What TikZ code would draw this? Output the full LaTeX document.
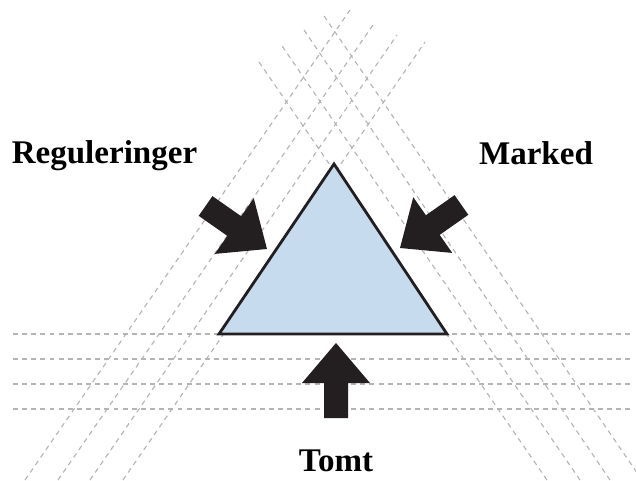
\documentclass[tikz,border=0pt]{standalone}
\usepackage{fontspec}
\setmainfont{Liberation Serif}
\definecolor{GuideGray}{HTML}{B4B4B4}
\definecolor{EdgeDark}{HTML}{231F20}
\definecolor{TriBlue}{HTML}{C7DBEE}
\usepackage{xcolor}
\usepackage{tikz}

\tikzset{
  guide/.style={draw=GuideGray,line width=0.8pt,dash pattern=on 3.5pt off 3pt},
  forcetext/.style={font=\fontsize{23.5}{28}\selectfont\bfseries,anchor=base,inner sep=0pt},
  pusharrow/.pic={
    \fill[EdgeDark] (0,0) -- (34,40) -- (12,40) -- (12,75)
      -- (-12,75) -- (-12,40) -- (-34,40) -- cycle;
  }
}

\begin{document}
\begin{tikzpicture}[x=0.025cm,y=-0.025cm]
  \useasboundingbox (0,0) rectangle (636,480);
  \clip (0,0) rectangle (636,480);

  % Guide lines (horizontal)
  \foreach \gy in {334,359,384,409}
    \draw[guide] (13,\gy) -- (634,\gy);

  % Guide lines (parallel to left side)
  \foreach \bx/\tx/\ty in {123/425/42,90/397/35,58/373/25,25/350/10}
    \draw[guide] (\bx,480) -- (\tx,\ty);

  % Guide lines (parallel to right side)
  \foreach \bx/\tx/\ty in {547/259/62,580/280/43,610/302/27,642/322/13}
    \draw[guide] (\bx,480) -- (\tx,\ty);

  % Triangle
  \coordinate (triTop) at (334,164);
  \coordinate (triLeft) at (219,334);
  \coordinate (triRight) at (447,334);
  \draw[fill=TriBlue,draw=EdgeDark,line width=2pt,line join=miter]
    (triLeft) -- (triTop) -- (triRight) -- cycle;

  % Forces
  \pic[rotate=-125] (pushReg) at (267,249) {pusharrow};
  \pic[rotate=125] (pushMarked) at (400,248) {pusharrow};
  \pic (pushTomt) at (336,343) {pusharrow};

  % Labels
  \node[forcetext] (regText) at (104.5,163) {Reguleringer};
  \node[forcetext] (markedText) at (536,164) {Marked};
  \node[forcetext] (tomtText) at (336,471) {Tomt};
\end{tikzpicture}
\end{document}
